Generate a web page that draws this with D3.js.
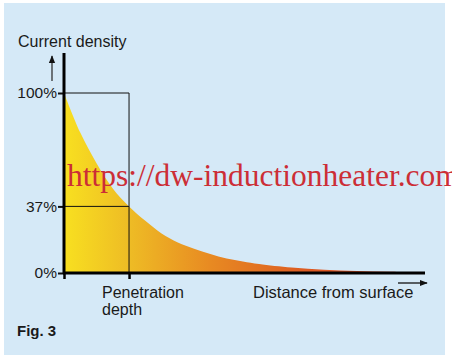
<!DOCTYPE html>
<html lang="en">
<head>
  <meta charset="UTF-8">
  <title>Current density vs distance from surface</title>
  <script src="https://d3js.org/d3.v7.min.js"></script>
  <style>
    body { margin: 0; background: #fff; }
  </style>
</head>
<body>
<svg id="chart" width="452" height="362"></svg>
<script>
  // distance in penetration depths, current density in %
  var depth = [0, 0.25, 0.5, 0.75, 1, 1.25, 1.5, 1.75, 2, 2.25, 2.5, 2.75, 3, 3.5, 4, 4.5, 5, 5.55];
  var density = [100, 78, 61, 47, 37, 29, 22, 17, 13.5, 10.5, 8, 6.4, 5, 3, 1.8, 1.1, 0.7, 0.4];
  var yTicks = [0, 37, 100];
  var yTickLabels = ['0%', '37%', '100%'];

  var sans = '"Liberation Sans", Arial, sans-serif';
  var svg = d3.select('#chart');

  // light blue panel
  svg.append('rect')
    .attr('x', 4).attr('y', 3)
    .attr('width', 441).attr('height', 352)
    .attr('fill', '#d5e9f7');

  var x = d3.scaleLinear().domain([0, 5.55]).range([64, 425]);
  var y = d3.scaleLinear().domain([0, 100]).range([273, 93]);

  var defs = svg.append('defs');
  var grad = defs.append('linearGradient')
    .attr('id', 'fillGrad')
    .attr('gradientUnits', 'userSpaceOnUse')
    .attr('x1', x(0)).attr('x2', x(5)).attr('y1', 0).attr('y2', 0);
  grad.append('stop').attr('offset', '0%').attr('stop-color', '#f8e020');
  grad.append('stop').attr('offset', '20%').attr('stop-color', '#eebc25');
  grad.append('stop').attr('offset', '45%').attr('stop-color', '#e88a22');
  grad.append('stop').attr('offset', '75%').attr('stop-color', '#dc5a22');
  grad.append('stop').attr('offset', '100%').attr('stop-color', '#d84a22');

  var pts = depth.map(function (d, i) { return [d, density[i]]; });

  svg.append('path')
    .datum(pts)
    .attr('fill', 'url(#fillGrad)')
    .attr('d', d3.area()
      .x(function (d) { return x(d[0]); })
      .y0(y(0))
      .y1(function (d) { return y(d[1]); })
      .curve(d3.curveCatmullRom.alpha(0.5)));

  // penetration depth guide lines
  svg.append('line')
    .attr('x1', x(0)).attr('x2', x(1)).attr('y1', y(100)).attr('y2', y(100))
    .attr('stroke', '#111').attr('stroke-width', 1);
  svg.append('line')
    .attr('x1', x(1)).attr('x2', x(1)).attr('y1', y(100)).attr('y2', y(0))
    .attr('stroke', '#111').attr('stroke-width', 1);
  svg.append('line')
    .attr('x1', x(0)).attr('x2', x(1)).attr('y1', y(37)).attr('y2', y(37))
    .attr('stroke', '#111').attr('stroke-width', 1);

  // axes
  var yAxis = d3.axisLeft(y).tickValues(yTicks)
    .tickFormat(function (d, i) { return yTickLabels[i]; })
    .tickSize(6).tickPadding(1);
  var gy = svg.append('g').attr('transform', 'translate(' + x(0) + ',0)').call(yAxis);
  gy.select('.domain').remove();
  gy.selectAll('line').attr('stroke', '#111').attr('stroke-width', 2);
  gy.selectAll('text').attr('font-size', 15.5).attr('fill', '#1a1a1a')
    .attr('font-family', sans);

  svg.append('line')
    .attr('x1', x(0)).attr('x2', x(0)).attr('y1', 53).attr('y2', y(0) + 1)
    .attr('stroke', '#000').attr('stroke-width', 3);
  svg.append('line')
    .attr('x1', x(0) - 1).attr('x2', 425).attr('y1', y(0)).attr('y2', y(0))
    .attr('stroke', '#000').attr('stroke-width', 3);

  var xAxis = d3.axisBottom(x).tickValues([0, 1]).tickFormat('').tickSize(6);
  var gx = svg.append('g').attr('transform', 'translate(0,' + y(0) + ')').call(xAxis);
  gx.select('.domain').remove();
  gx.selectAll('line').attr('stroke', '#000').attr('stroke-width', 2.5);

  // arrows
  defs.append('marker')
    .attr('id', 'arr').attr('viewBox', '0 0 10 10')
    .attr('refX', 9).attr('refY', 5)
    .attr('markerWidth', 8).attr('markerHeight', 8)
    .attr('markerUnits', 'userSpaceOnUse')
    .attr('orient', 'auto')
    .append('path').attr('d', 'M0,1 L10,5 L0,9 Z').attr('fill', '#111');

  svg.append('line')
    .attr('x1', 52).attr('x2', 52).attr('y1', 81).attr('y2', 56)
    .attr('stroke', '#333').attr('stroke-width', 1.3)
    .attr('marker-end', 'url(#arr)');
  svg.append('line')
    .attr('x1', 398).attr('x2', 427).attr('y1', 283).attr('y2', 283)
    .attr('stroke', '#111').attr('stroke-width', 1.3)
    .attr('marker-end', 'url(#arr)');

  // labels
  function label(tx, ty, str, size, weight) {
    svg.append('text').attr('x', tx).attr('y', ty)
      .style('font-family', sans).style('font-size', size + 'px')
      .style('font-weight', weight || 'normal').style('fill', '#1a1a1a')
      .text(str);
  }
  label(18, 47, 'Current density', 16);
  label(102, 298, 'Penetration', 16);
  label(102, 315, 'depth', 16);
  label(253, 298, 'Distance from surface', 16.5);
  label(17, 336, 'Fig. 3', 15, 'bold');

  // watermark
  svg.append('text').attr('x', 67).attr('y', 186)
    .style('font-family', '"Liberation Serif", "Times New Roman", serif')
    .style('font-size', '31.5px').style('fill', '#cc2e36')
    .text('https://dw-inductionheater.com');
</script>
</body>
</html>
